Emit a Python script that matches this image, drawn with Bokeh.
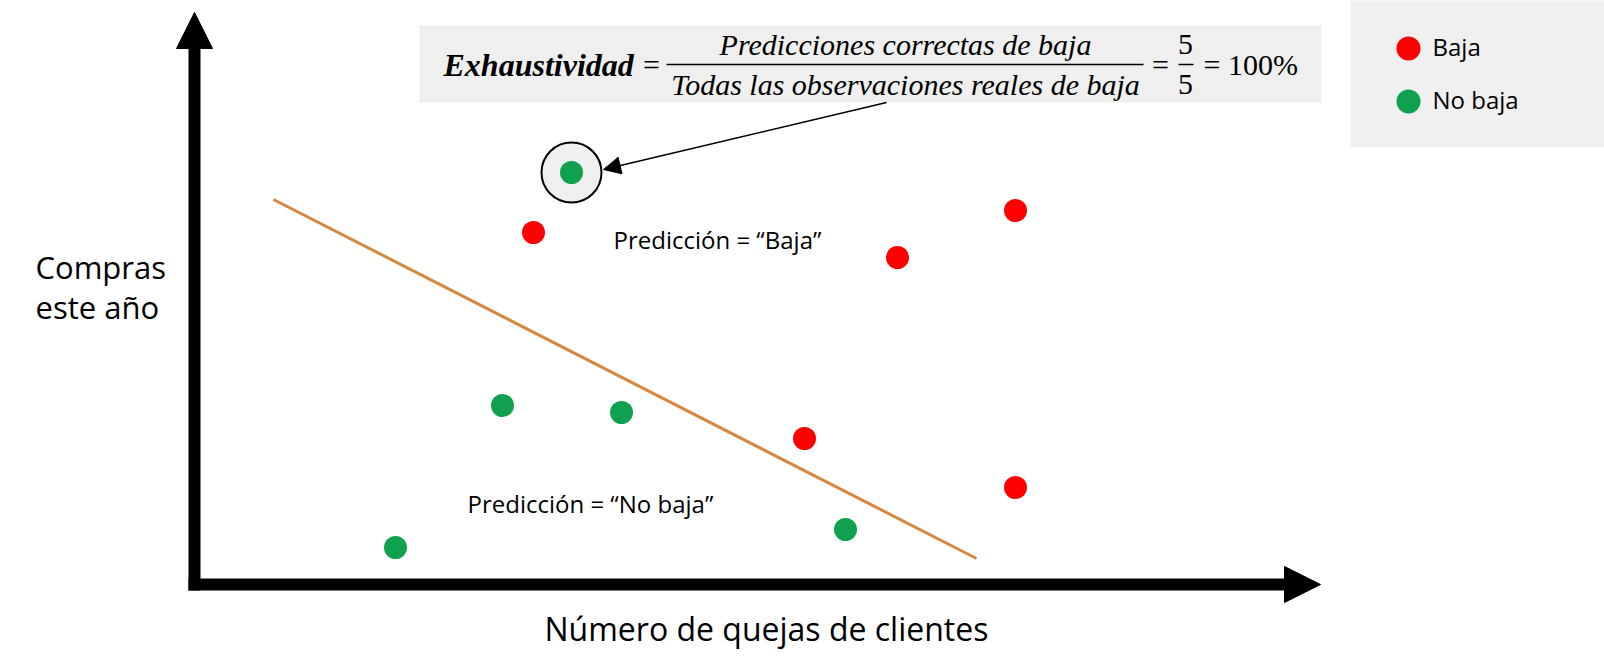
from bokeh.plotting import figure
from bokeh.models import Arrow, NormalHead, Range1d
from bokeh.core.properties import value
from bokeh.embed import file_html
from bokeh.resources import INLINE

# ---- data (arbitrary units: x = quejas, y = compras) ----
baja_x = [3.39, 7.03, 8.21, 6.10, 8.21]
baja_y = [3.52, 3.27, 3.74, 1.46, 0.97]
no_baja_x = [3.77, 3.08, 4.27, 2.01, 6.51]
no_baja_y = [4.12, 1.79, 1.72, 0.37, 0.55]
destacado_x = [3.77]
destacado_y = [4.12]
frontera_x = [0.79, 7.82]
frontera_y = [3.85, 0.26]

x_label = "Número de quejas de clientes"
y_label = ["Compras", "este año"]
legend_labels = ["Baja", "No baja"]
pred_labels = ["Predicción = “Baja”", "Predicción = “No baja”"]
formula_name = "Exhaustividad"
formula_num = "Predicciones correctas de baja"
formula_den = "Todas las observaciones reales de baja"

RED = "#ff0000"
GREEN = "#0fa14f"
ORANGE = "#d6883f"
SANS = value("Open Sans")
SERIF = value("Liberation Serif")

W, H = 1604, 656
X0, Y0 = 194, 584  # page pixel position of the origin


def sx(px):
    return (px - X0) / 100.0


def sy(py):
    return (Y0 - py) / 100.0


p = figure(width=W, height=H, output_backend="svg", toolbar_location=None,
           x_range=Range1d(sx(0), sx(W)), y_range=Range1d(sy(H), sy(0)),
           min_border=0, background_fill_color="white", border_fill_color="white")
p.axis.visible = False
p.grid.visible = False
p.outline_line_color = None

# formula box
p.quad(left=[sx(419)], right=[sx(1321)], top=[sy(25)], bottom=[sy(102)],
       fill_color="#efefef", line_color=None)
# legend box
p.quad(left=[sx(1350)], right=[sx(1620)], top=[sy(-10)], bottom=[sy(147)],
       fill_color="#f0f0f0", line_color=None)

# axes arrows
p.add_layout(Arrow(x_start=0, y_start=sy(590), x_end=0, y_end=sy(12),
                   line_width=12, line_color="black",
                   end=NormalHead(size=36, fill_color="black", line_color="black", line_width=1)))
p.add_layout(Arrow(x_start=sx(188), y_start=0, x_end=sx(1320), y_end=0,
                   line_width=12, line_color="black",
                   end=NormalHead(size=36, fill_color="black", line_color="black", line_width=1)))

# decision line
p.line(frontera_x, frontera_y, line_color=ORANGE, line_width=3)

# highlight circle
p.scatter(destacado_x, destacado_y, size=60, fill_color="#efefef", line_color="black", line_width=2)

# points
p.scatter(baja_x, baja_y, size=23, fill_color=RED, line_color=None)
p.scatter(no_baja_x, no_baja_y, size=23, fill_color=GREEN, line_color=None)

# annotation arrow
p.add_layout(Arrow(x_start=sx(886), y_start=sy(102), x_end=sx(603), y_end=sy(169),
                   line_width=1.5, line_color="black",
                   end=NormalHead(size=17, fill_color="black", line_color="black", line_width=1)))

# formula
p.text([sx(443)], [sy(64)], text=[formula_name], text_font=SERIF, text_font_style="bold italic",
       text_font_size="32px", text_baseline="middle", text_align="left", text_color="black")
p.text([sx(651)], [sy(64)], text=["="], text_font=SERIF, text_font_size="30px",
       text_baseline="middle", text_align="center", text_color="black")
p.text([sx(905)], [sy(44)], text=[formula_num], text_font=SERIF, text_font_style="italic",
       text_font_size="30px", text_baseline="middle", text_align="center", text_color="black")
p.text([sx(905)], [sy(84)], text=[formula_den], text_font=SERIF, text_font_style="italic",
       text_font_size="30px", text_baseline="middle", text_align="center", text_color="black")
p.segment(x0=[sx(666)], y0=[sy(64)], x1=[sx(1143)], y1=[sy(64)], line_color="black", line_width=1.5)
p.text([sx(1160)], [sy(64)], text=["="], text_font=SERIF, text_font_size="30px",
       text_baseline="middle", text_align="center", text_color="black")
p.text([sx(1185), sx(1185)], [sy(44), sy(84)], text=["5", "5"], text_font=SERIF, text_font_size="30px",
       text_baseline="middle", text_align="center", text_color="black")
p.segment(x0=[sx(1178)], y0=[sy(64)], x1=[sx(1193)], y1=[sy(64)], line_color="black", line_width=1.5)
p.text([sx(1203)], [sy(64)], text=["= 100%"], text_font=SERIF, text_font_size="30px",
       text_baseline="middle", text_align="left", text_color="black")

# legend
p.scatter([sx(1408), sx(1408)], [sy(48), sy(101)], size=24, fill_color=[RED, GREEN], line_color=None)
p.text([sx(1432), sx(1432)], [sy(46), sy(99)], text=legend_labels, text_font=SANS,
       text_font_size="24px", text_baseline="middle", text_align="left", text_color="black")

# region labels
p.text([sx(613), sx(467)], [sy(239), sy(503)], text=pred_labels, text_font=SANS,
       text_font_size="24px", text_baseline="middle", text_align="left", text_color="black")

# axis titles
p.text([sx(35), sx(35)], [sy(266), sy(306)], text=y_label, text_font=SANS,
       text_font_size="31px", text_baseline="alphabetic", text_align="left", text_color="black")
p.text([sx(766)], [sy(628)], text=[x_label], text_font=SANS,
       text_font_size="32px", text_baseline="alphabetic", text_align="center", text_color="black")

open("out.html", "w").write(file_html(p, INLINE))
